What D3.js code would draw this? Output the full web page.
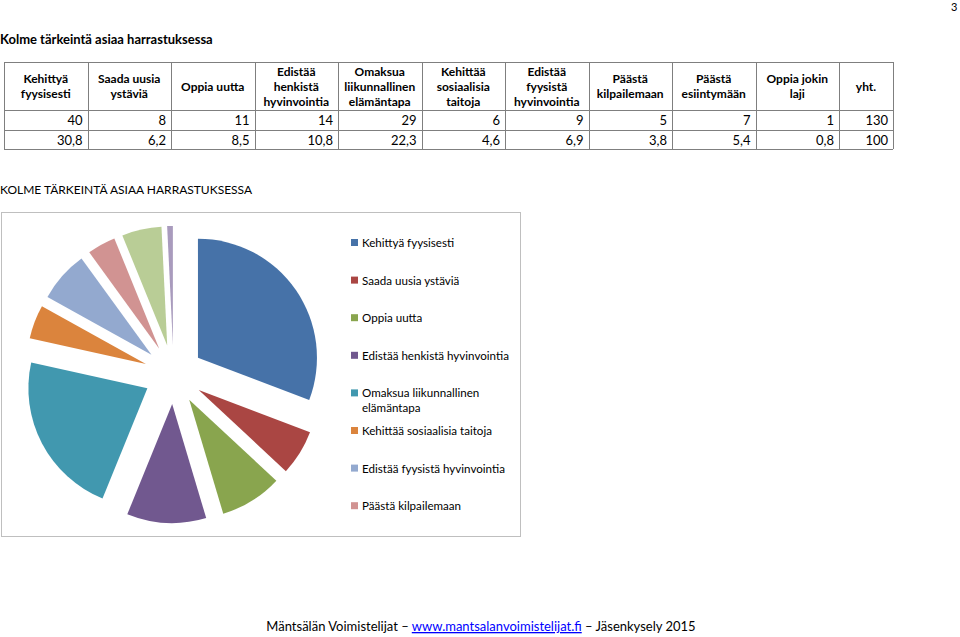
<!DOCTYPE html>
<html><head><meta charset="utf-8">
<script src="https://cdn.jsdelivr.net/npm/d3@7"></script>
<style>
body{margin:0;background:#fff;}
svg{display:block;font-family:Lato,"Open Sans",sans-serif;}
</style></head>
<body><svg id="c" width="960" height="637"></svg>
<script>
// ---- data ----
const categories = ["Kehittyä fyysisesti","Saada uusia ystäviä","Oppia uutta","Edistää henkistä hyvinvointia","Omaksua liikunnallinen elämäntapa","Kehittää sosiaalisia taitoja","Edistää fyysistä hyvinvointia","Päästä kilpailemaan","Päästä esiintymään","Oppia jokin laji"];
const headerLines = [["Kehittyä","fyysisesti"],["Saada uusia","ystäviä"],["Oppia uutta"],["Edistää","henkistä","hyvinvointia"],["Omaksua","liikunnallinen","elämäntapa"],["Kehittää","sosiaalisia","taitoja"],["Edistää","fyysistä","hyvinvointia"],["Päästä","kilpailemaan"],["Päästä","esiintymään"],["Oppia jokin","laji"],["yht."]];
const counts = [40,8,11,14,29,6,9,5,7,1];
const countTotal = "130";
const percents = ["30,8","6,2","8,5","10,8","22,3","4,6","6,9","3,8","5,4","0,8"];
const percentTotal = "100";
const legendLines = [["Kehittyä fyysisesti"],["Saada uusia ystäviä"],["Oppia uutta"],["Edistää henkistä hyvinvointia"],["Omaksua liikunnallinen","elämäntapa"],["Kehittää sosiaalisia taitoja"],["Edistää fyysistä hyvinvointia"],["Päästä kilpailemaan"]];
const colors = ["#4672A8","#AA4643","#89A54E","#71588F","#4198AF","#DB843D","#93A9CF","#D19392","#B9CD96","#A99BBD"];

const svg = d3.select("#c");

// page number
svg.append("text").attr("x",951).attr("y",11).attr("font-size",11).attr("fill","#000").text("3");

// title
svg.append("text").attr("x",0).attr("y",44).attr("font-size",13).attr("font-weight","bold").text("Kolme tärkeintä asiaa harrastuksessa");

// ---- table ----
const tx0 = 4, colW = 83.5, lastW = 54;
const colX = d3.range(11).map(i => tx0 + i*colW);
const colWidths = d3.range(11).map(i => i<10 ? colW : lastW);
const rowY = [62,110,130,149];
const tableRight = colX[10] + lastW;
const tg = svg.append("g").attr("stroke","#7f7f7f").attr("stroke-width",1);
rowY.forEach(y => tg.append("line").attr("x1",tx0).attr("x2",tableRight).attr("y1",y+0.5).attr("y2",y+0.5));
colX.concat([tableRight]).forEach(x => tg.append("line").attr("x1",Math.round(x)+0.5).attr("x2",Math.round(x)+0.5).attr("y1",rowY[0]).attr("y2",rowY[3]));

headerLines.forEach((lines,i)=>{
  const cx = colX[i] + colWidths[i]/2;
  const cy = (rowY[0]+rowY[1])/2;
  const lh = 15;
  lines.forEach((l,j)=>{
    svg.append("text").attr("x",cx).attr("y",cy + (j-(lines.length-1)/2)*lh + 4.5)
      .attr("text-anchor","middle").attr("font-size",12).attr("font-weight","bold").text(l);
  });
});
const row1 = counts.map(String).concat([countTotal]);
const row2 = percents.concat([percentTotal]);
[row1,row2].forEach((row,r)=>{
  row.forEach((v,i)=>{
    svg.append("text").attr("x",colX[i]+colWidths[i]-5).attr("y",rowY[r+1]+15)
      .attr("text-anchor","end").attr("font-size",13).text(v);
  });
});

// ---- chart title ----
svg.append("text").attr("x",0).attr("y",194).attr("font-size",12).text("KOLME TÄRKEINTÄ ASIAA HARRASTUKSESSA");

// frame
svg.append("rect").attr("x",1.5).attr("y",212.5).attr("width",519).attr("height",324)
  .attr("fill","none").attr("stroke","#bfbfbf").attr("stroke-width",1);

// ---- pie ----
const cx = 173.6, cy = 374.5, R = 119, explode = 29.6;
const pie = d3.pie().sort(null).value(d=>d)(counts);
const arc = d3.arc().innerRadius(0).outerRadius(R);
const pg = svg.append("g").attr("transform",`translate(${cx},${cy})`);
pg.selectAll("path").data(pie).join("path")
  .attr("d",arc)
  .attr("fill",(d,i)=>colors[i])
  .attr("transform",d=>{const m=(d.startAngle+d.endAngle)/2; return `translate(${Math.sin(m)*explode},${-Math.cos(m)*explode})`;});

// ---- legend ----
const lg = svg.append("g");
legendLines.forEach((lines,i)=>{
  const y = 243 + i*37.6;
  lg.append("rect").attr("x",351).attr("y",y-4).attr("width",7).attr("height",7).attr("fill",colors[i]);
  lines.forEach((l,j)=>{
    lg.append("text").attr("x",362).attr("y",y+4+j*15).attr("font-size",11.6).attr("fill","#000").text(l);
  });
});

// ---- footer ----
const ft = svg.append("text").attr("x",481).attr("y",631).attr("text-anchor","middle").attr("font-size",13);
ft.append("tspan").text("Mäntsälän Voimistelijat – ");
ft.append("tspan").attr("fill","#0000ff").attr("text-decoration","underline").text("www.mantsalanvoimistelijat.fi");
ft.append("tspan").text(" – Jäsenkysely 2015");
</script></body></html>
